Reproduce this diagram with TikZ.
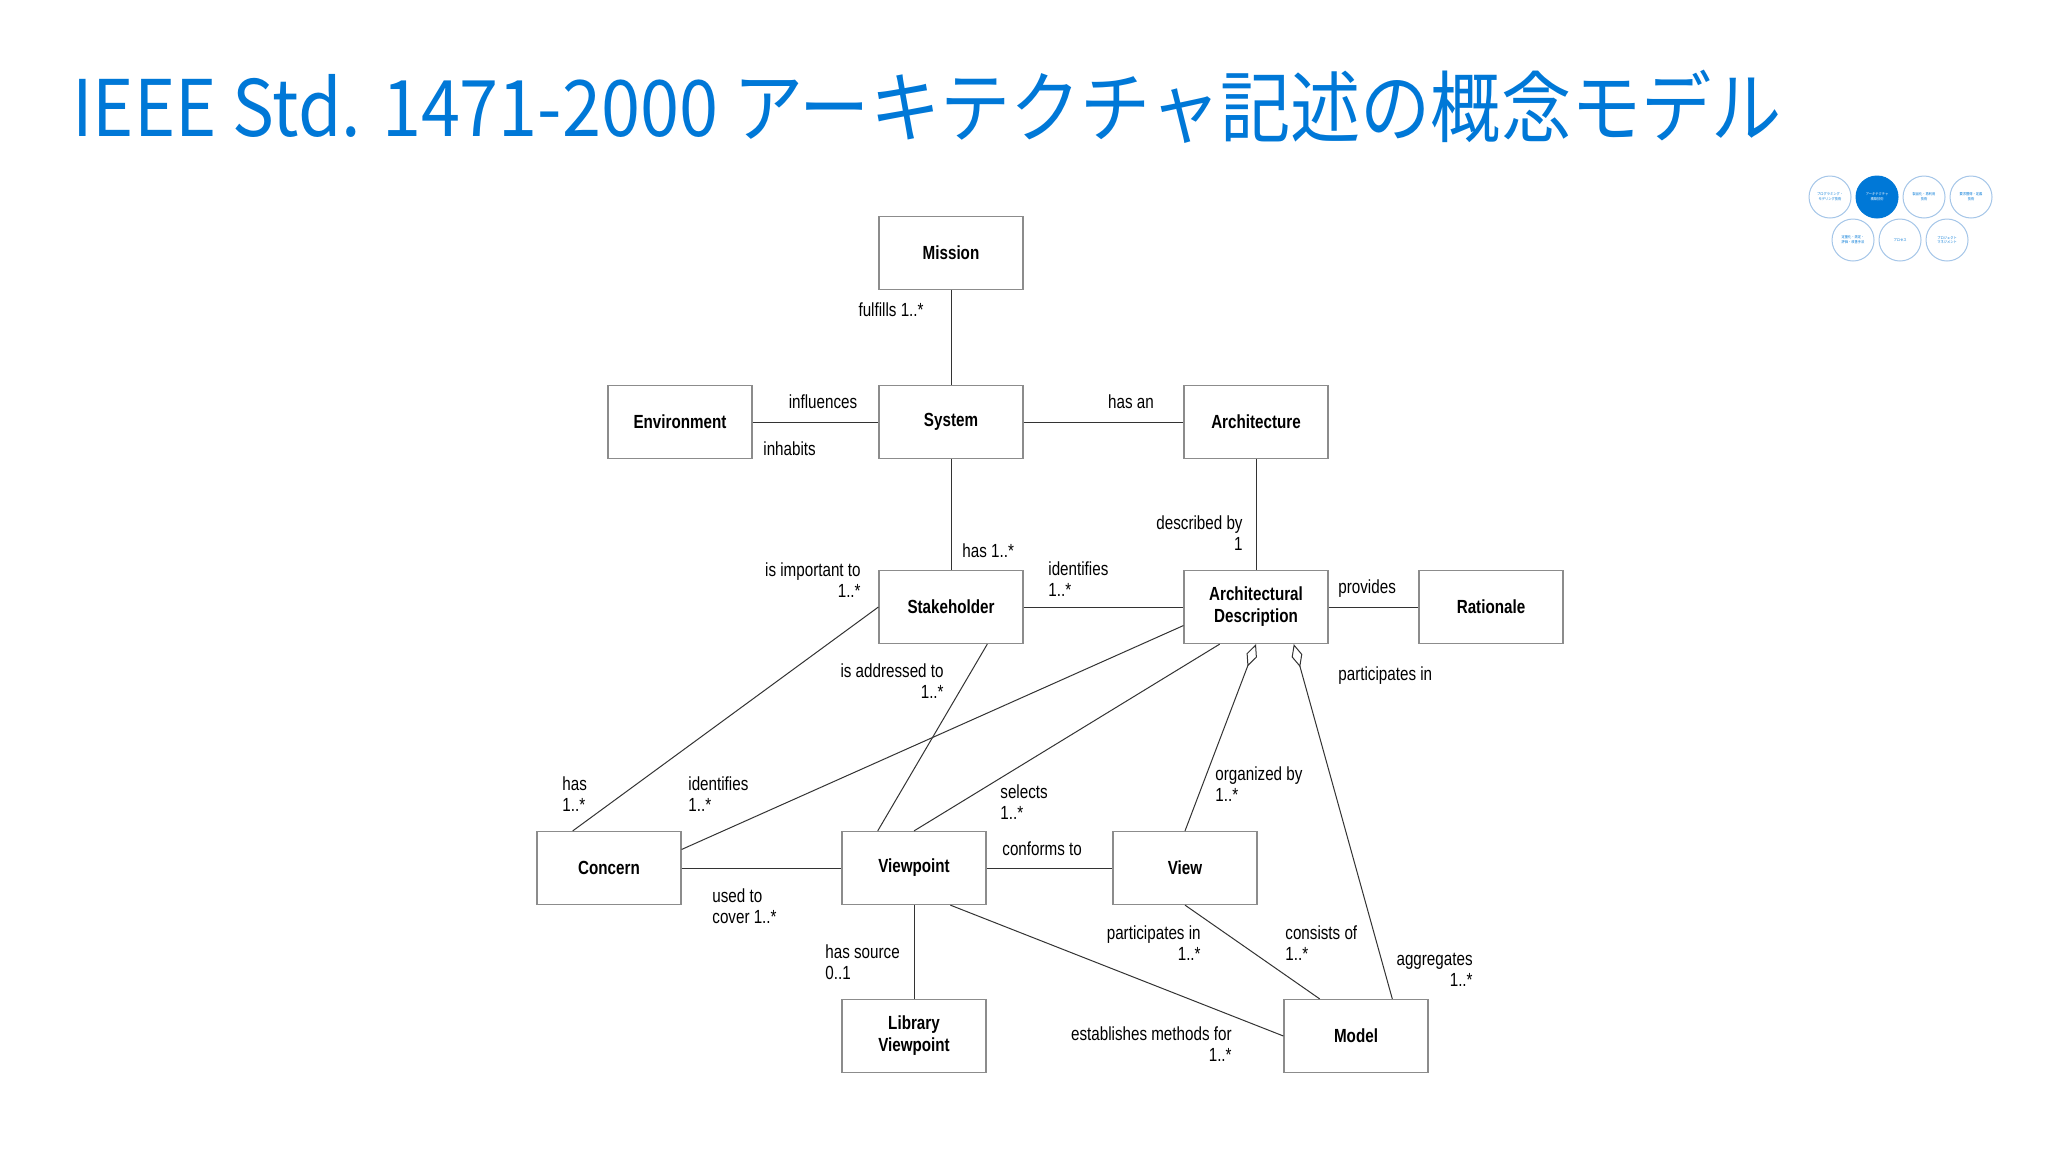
\documentclass[tikz,border=0pt]{standalone}
\usepackage{fontspec}
\usepackage{tikz}
\usetikzlibrary{arrows.meta,calc}
\newfontfamily\umlfont{Liberation Sans}[FakeStretch=0.8]
\newfontfamily\titlefont{Noto Sans CJK JP}[FakeStretch=0.9]
\definecolor{titleblue}{RGB}{0,120,215}
\definecolor{navring}{RGB}{165,198,232}

\begin{document}
\begin{tikzpicture}[x=0.5pt,y=-0.5pt,
  every node/.style={font=\umlfont\fontsize{9.5}{10.5}\selectfont,inner sep=1pt},
  cls/.style={draw=black!45,fill=white,minimum width=72pt,minimum height=36.5pt,align=center,
    line width=0.6pt,font=\umlfont\bfseries\fontsize{9.5}{11}\selectfont},
  assoc/.style={draw=black!80,line width=0.5pt},
  aggr/.style={assoc,{Diamond[open,length=12pt,width=5.5pt]}-},
  lbl/.style={align=left,anchor=west},
  lblr/.style={align=right,anchor=east},
  nav/.style={circle,draw=navring,fill=white,minimum size=21pt,inner sep=0pt,text=titleblue,
    align=center,line width=0.5pt,font=\titlefont\fontsize{1.8}{2.4}\selectfont}]
\useasboundingbox[fill=white] (0,0) rectangle (2048,1152);

\node[anchor=base west,inner sep=0pt,text=titleblue,font=\titlefont\fontsize{39}{44}\selectfont]
  (title) at (72,136) {IEEE Std. 1471-2000 アーキテクチャ記述の概念モデル};

\node[nav] (nav1) at (1830,197) {プログラミング・\\モデリング技術};
\node[nav,fill=titleblue,draw=titleblue,text=white] (nav2) at (1877,197) {アーキテクチャ\\構築技術};
\node[nav] (nav3) at (1924,197) {製品化・再利用\\技術};
\node[nav] (nav4) at (1971,197) {要求獲得・定義\\技術};
\node[nav] (nav5) at (1853,240) {定量化・測定・\\評価・改善手法};
\node[nav] (nav6) at (1900,240) {プロセス};
\node[nav] (nav7) at (1947,240) {プロジェクト\\マネジメント};

\node[cls] (mission) at (951,253) {Mission};
\node[cls] (environment) at (680,422) {Environment};
\node[cls] (system) at (951,422) {System};
\node[cls] (architecture) at (1256,422) {Architecture};
\node[cls] (stakeholder) at (951,607) {Stakeholder};
\node[cls] (archdesc) at (1256,607) {Architectural\\Description};
\node[cls] (rationale) at (1491,607) {Rationale};
\node[cls] (concern) at (609,868) {Concern};
\node[cls] (viewpoint) at (914,868) {Viewpoint};
\node[cls] (view) at (1185,868) {View};
\node[cls] (libviewpoint) at (914,1036) {Library\\Viewpoint};
\node[cls] (model) at (1356,1036) {Model};

\draw[assoc] (mission) -- (system);
\draw[assoc] (environment) -- (system);
\draw[assoc] (system) -- (architecture);
\draw[assoc] (system) -- (stakeholder);
\draw[assoc] (architecture) -- (archdesc);
\draw[assoc] (stakeholder) -- (archdesc);
\draw[assoc] (archdesc) -- (rationale);
\draw[assoc] (stakeholder.west) -- ($(concern.north west)!0.25!(concern.north east)$);
\draw[assoc] ($(archdesc.north west)!0.75!(archdesc.south west)$) -- ($(concern.north east)!0.25!(concern.south east)$);
\draw[assoc] ($(stakeholder.south west)!0.75!(stakeholder.south east)$) -- ($(viewpoint.north west)!0.25!(viewpoint.north east)$);
\draw[assoc] ($(archdesc.south west)!0.25!(archdesc.south east)$) -- (viewpoint.north);
\draw[aggr] (archdesc.south) -- (view.north);
\draw[aggr] ($(archdesc.south west)!0.76!(archdesc.south east)$) -- ($(model.north west)!0.75!(model.north east)$);
\draw[assoc] (concern) -- (viewpoint);
\draw[assoc] (viewpoint) -- (view);
\draw[assoc] (viewpoint) -- (libviewpoint);
\draw[assoc] ($(viewpoint.south west)!0.75!(viewpoint.south east)$) -- (model.west);
\draw[assoc] (view.south) -- ($(model.north west)!0.25!(model.north east)$);

\node[lblr] (l-fulfills) at (926,310) {fulfills 1..*};
\node (l-influences) at (823,402) {influences};
\node[lbl] (l-inhabits) at (761,449) {inhabits};
\node (l-hasan) at (1131,402) {has an};
\node[lbl] (l-has) at (960,551) {has 1..*};
\node[lblr] (l-described) at (1245,533) {described by\\1};
\node[lbl] (l-identifies) at (1046,579) {identifies\\1..*};
\node[lbl] (l-provides) at (1336,589) {provides};
\node[lblr] (l-important) at (863,580) {is important to\\1..*};
\node[lbl] (l-participates) at (1336,676) {participates in};
\node[lblr] (l-addressed) at (946,681) {is addressed to\\1..*};
\node[lbl] (l-hasconcern) at (560,794) {has\\1..*};
\node[lbl] (l-identifiesconcern) at (686,794) {identifies\\1..*};
\node[lbl] (l-selects) at (998,802) {selects\\1..*};
\node[lbl] (l-organized) at (1213,784) {organized by\\1..*};
\node[lbl] (l-conforms) at (1000,849) {conforms to};
\node[lbl] (l-usedto) at (710,906) {used to\\cover 1..*};
\node[lbl] (l-hassource) at (823,962) {has source\\0..1};
\node[lblr] (l-participatesview) at (1203,943) {participates in\\1..*};
\node[lbl] (l-consists) at (1283,943) {consists of\\1..*};
\node[lblr] (l-aggregates) at (1475,970) {aggregates\\1..*};
\node[lblr] (l-establishes) at (1234,1044) {establishes methods for\\1..*};
\end{tikzpicture}
\end{document}
